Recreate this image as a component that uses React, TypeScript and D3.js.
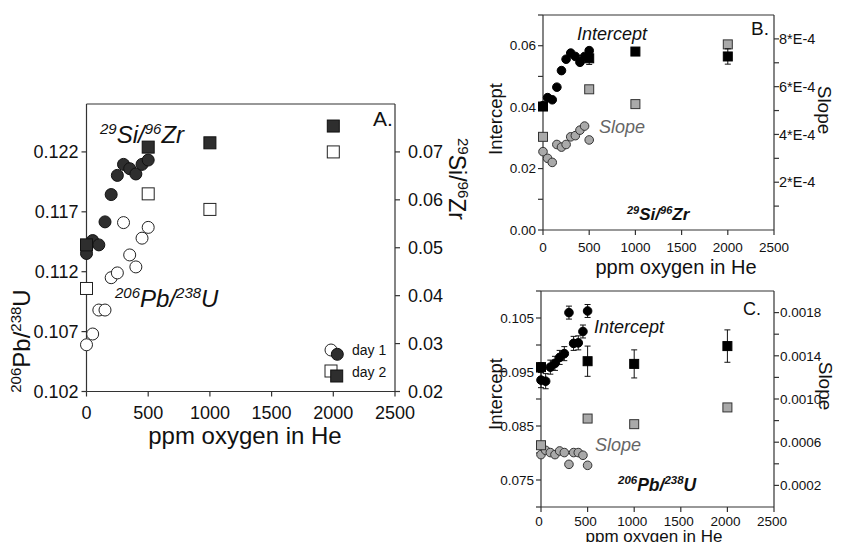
import React from 'react';
import * as d3 from 'd3';

// ---------- data ----------
const ppmDay1 = [0, 50, 100, 150, 200, 250, 300, 350, 400, 450, 500];
const ppmDay2 = [0, 500, 1000, 2000];

// Panel A
const pbUDay1 = [0.1059, 0.1068, 0.1088, 0.1088, 0.1115, 0.1119, 0.1161, 0.1134, 0.1124, 0.1148, 0.1157];
const siZrDay1 = [0.0488, 0.0515, 0.0506, 0.0554, 0.0611, 0.0651, 0.0674, 0.0665, 0.0654, 0.0674, 0.0683];
const pbUDay2 = [0.1106, 0.1185, 0.1172, 0.122];
const siZrDay2 = [0.0506, 0.071, 0.0719, 0.0754];

// Panel B (29Si/96Zr)
const siInterceptDay1 = [0.0405, 0.0431, 0.0424, 0.0465, 0.0519, 0.0556, 0.0576, 0.0565, 0.0546, 0.0565, 0.0584];
const siSlopeDay1 = [3.28e-4, 3.0e-4, 2.83e-4, 3.58e-4, 3.47e-4, 3.58e-4, 3.9e-4, 3.95e-4, 4.18e-4, 4.35e-4, 3.77e-4];
const siInterceptDay2 = [0.0402, 0.0559, 0.0581, 0.0565];
const siInterceptErrDay2 = [0.0004, 0.002, 0.001, 0.0025];
const siSlopeDay2 = [3.9e-4, 5.89e-4, 5.27e-4, 7.77e-4];

// Panel C (206Pb/238U)
const pbInterceptDay1 = [0.0935, 0.0933, 0.0959, 0.0966, 0.0977, 0.0984, 0.106, 0.1003, 0.1004, 0.1025, 0.1063];
const pbInterceptErrDay1 = [0.0014, 0.0014, 0.0013, 0.0013, 0.0013, 0.0013, 0.0012, 0.0013, 0.0013, 0.0012, 0.0012];
const pbSlopeDay1 = [4.85e-4, 5.25e-4, 5.04e-4, 4.85e-4, 5.19e-4, 5.04e-4, 3.95e-4, 5.04e-4, 5.04e-4, 4.79e-4, 3.86e-4];
const pbInterceptDay2 = [0.0959, 0.097, 0.0965, 0.0998];
const pbInterceptErrDay2 = [0.0008, 0.0028, 0.0026, 0.003];
const pbSlopeDay2 = [5.72e-4, 8.19e-4, 7.67e-4, 9.22e-4];

// ticks
const xTicks = [0, 500, 1000, 1500, 2000, 2500];
const aLeftTicks = [0.102, 0.107, 0.112, 0.117, 0.122];
const aRightTicks = [0.02, 0.03, 0.04, 0.05, 0.06, 0.07];
const bLeftTicks = [0, 0.01, 0.02, 0.03, 0.04, 0.05, 0.06, 0.07];
const bLeftLabels = ['0.00', '0.02', '0.04', '0.06'];
const bRightTicks = [1e-4, 2e-4, 3e-4, 4e-4, 5e-4, 6e-4, 7e-4, 8e-4];
const bRightLabels = ['2*E-4', '4*E-4', '6*E-4', '8*E-4'];
const cLeftTicks = [0.07, 0.075, 0.08, 0.085, 0.09, 0.095, 0.1, 0.105, 0.11];
const cLeftLabels = ['0.075', '0.085', '0.095', '0.105'];
const cRightTicks = [0.0002, 0.0004, 0.0006, 0.0008, 0.001, 0.0012, 0.0014, 0.0016, 0.0018];
const cRightLabels = ['0.0002', '0.0006', '0.0010', '0.0014', '0.0018'];

const FONT = 'Liberation Sans, Arial, Helvetica, sans-serif';
const GRAY = '#a9a9a9';

type Scale = d3.ScaleLinear<number, number>;

function Frame({ x, yl }: { x: Scale; yl: Scale }) {
  const [x0, x1] = x.range();
  const [y0, y1] = yl.range();
  return (
    <g stroke="#333" strokeWidth={1.2} fill="none">
      <line x1={x0} x2={x0} y1={y0} y2={y1} />
      <line x1={x1} x2={x1} y1={y0} y2={y1} />
      <line x1={x0} x2={x1} y1={y1} y2={y1} />
      <line x1={x0} x2={x1} y1={y0} y2={y0} />
    </g>
  );
}

function XAxis({ x, y0, fs, base, labelDx = 0 }: { x: Scale; y0: number; fs: number; base: number; labelDx?: number }) {
  return (
    <g>
      {xTicks.map((t) => (
        <g key={t}>
          <line x1={x(t)} x2={x(t)} y1={y0} y2={y0 + 5} stroke="#333" strokeWidth={1.2} />
          <text x={x(t) + labelDx} y={base} fontSize={fs} textAnchor="middle" fontFamily={FONT} fill="#111">
            {t}
          </text>
        </g>
      ))}
    </g>
  );
}

function YTicks({ y, x0, dir, ticks, labels, labelVals, fs, gap }: any) {
  return (
    <g>
      {ticks.map((t: number, i: number) => (
        <line key={'t' + i} x1={x0} x2={x0 + dir * 5} y1={y(t)} y2={y(t)} stroke="#333" strokeWidth={1.2} />
      ))}
      {labelVals.map((t: number, i: number) => (
        <text
          key={'l' + i}
          x={x0 + dir * (5 + gap)}
          y={y(t)}
          dy="0.35em"
          fontSize={fs}
          textAnchor={dir < 0 ? 'end' : 'start'}
          fontFamily={FONT}
          fill="#111"
        >
          {labels[i]}
        </text>
      ))}
    </g>
  );
}

function Circles({ x, y, xs, vs, r, fill, stroke }: any) {
  return (
    <g>
      {xs.map((d: number, i: number) => (
        <circle key={i} cx={x(d)} cy={y(vs[i])} r={r} fill={fill} stroke={stroke} strokeWidth={1} />
      ))}
    </g>
  );
}

function Squares({ x, y, xs, vs, s, fill, stroke }: any) {
  return (
    <g>
      {xs.map((d: number, i: number) => (
        <rect key={i} x={x(d) - s / 2} y={y(vs[i]) - s / 2} width={s} height={s} fill={fill} stroke={stroke} strokeWidth={1} />
      ))}
    </g>
  );
}

function ErrorBars({ x, y, xs, vs, es }: any) {
  return (
    <g stroke="#111" strokeWidth={1}>
      {xs.map((d: number, i: number) => {
        const cx = x(d);
        const a = y(vs[i] - es[i]);
        const b = y(vs[i] + es[i]);
        return (
          <g key={i}>
            <line x1={cx} x2={cx} y1={a} y2={b} />
            <line x1={cx - 3} x2={cx + 3} y1={a} y2={a} />
            <line x1={cx - 3} x2={cx + 3} y1={b} y2={b} />
          </g>
        );
      })}
    </g>
  );
}

function SupLabel({ parts, fs, sfs, bold, italic, ...rest }: any) {
  let prevSup = false;
  return (
    <text fontFamily={FONT} fontWeight={bold ? 'bold' : 'normal'} fontStyle={italic ? 'italic' : 'normal'} fill="#111" {...rest}>
      {parts.map((p: [string, boolean], i: number) => {
        const [txt, sup] = p;
        let dy = 0;
        if (sup && !prevSup) dy = -fs * 0.38;
        if (!sup && prevSup) dy = fs * 0.38;
        prevSup = sup;
        return (
          <tspan key={i} fontSize={sup ? sfs : fs} dy={dy}>
            {txt}
          </tspan>
        );
      })}
    </text>
  );
}

export default function App() {
  // Panel A scales
  const xA = d3.scaleLinear().domain([0, 2500]).range([86.5, 395]);
  const yAL = d3.scaleLinear().domain([0.102, 0.126]).range([391.5, 104]);
  const yAR = d3.scaleLinear().domain([0.02, 0.08]).range([391.5, 104]);
  // Panel B
  const xB = d3.scaleLinear().domain([0, 2500]).range([543, 774]);
  const yBL = d3.scaleLinear().domain([0, 0.07]).range([230, 15]);
  const yBR = d3.scaleLinear().domain([0, 9e-4]).range([230, 15]);
  // Panel C
  const xC = d3.scaleLinear().domain([0, 2500]).range([541, 774]);
  const yCL = d3.scaleLinear().domain([0.07, 0.11]).range([507, 291]);
  const yCR = d3.scaleLinear().domain([0, 0.002]).range([507, 291]);

  return (
    <svg width={843} height={542} style={{ position: 'absolute', left: 0, top: 0, background: '#fff' }}>
      <rect width={843} height={542} fill="#fff" />

      {/* ================= Panel A ================= */}
      <Frame x={xA} yl={yAL} />
      <XAxis x={xA} y0={391.5} fs={18} base={419} />
      <YTicks y={yAL} x0={86.5} dir={-1} ticks={aLeftTicks} labels={aLeftTicks.map((t) => t.toFixed(3))} labelVals={aLeftTicks} fs={18} gap={3} />
      <YTicks y={yAR} x0={395} dir={1} ticks={aRightTicks} labels={aRightTicks.map((t) => t.toFixed(2))} labelVals={aRightTicks} fs={18} gap={8} />

      <Circles x={xA} y={yAL} xs={ppmDay1} vs={pbUDay1} r={6} fill="#fff" stroke="#222" />
      <Squares x={xA} y={yAL} xs={ppmDay2} vs={pbUDay2} s={12} fill="#fff" stroke="#222" />
      <Circles x={xA} y={yAR} xs={ppmDay1} vs={siZrDay1} r={6} fill="#2e2e2e" stroke="#111" />
      <Squares x={xA} y={yAR} xs={ppmDay2} vs={siZrDay2} s={12} fill="#2e2e2e" stroke="#111" />

      <SupLabel x={100} y={143} fs={24} sfs={15} italic parts={[['29', true], ['Si/', false], ['96', true], ['Zr', false]]} />
      <SupLabel x={115} y={307} fs={24} sfs={15} italic parts={[['206', true], ['Pb/', false], ['238', true], ['U', false]]} />
      <text x={373} y={126} fontSize={21} fontFamily={FONT} fill="#111">A.</text>

      {/* legend */}
      <circle cx={331} cy={350} r={6} fill="#fff" stroke="#222" />
      <circle cx={337.3} cy={354.3} r={6} fill="#2e2e2e" stroke="#111" />
      <text x={352} y={355} fontSize={14} fontFamily={FONT} fill="#111">day 1</text>
      <rect x={325} y={365} width={12} height={12} fill="#fff" stroke="#222" />
      <rect x={330.7} y={370} width={12} height={12} fill="#2e2e2e" stroke="#111" />
      <text x={352} y={377} fontSize={14} fontFamily={FONT} fill="#111">day 2</text>

      <text x={245} y={444} fontSize={24} textAnchor="middle" fontFamily={FONT} fill="#111">ppm oxygen in He</text>
      <SupLabel transform="translate(30,341) rotate(-90)" x={0} y={0} textAnchor="middle" fs={24} sfs={15} parts={[['206', true], ['Pb/', false], ['238', true], ['U', false]]} />
      <SupLabel transform="translate(449,179) rotate(90)" x={0} y={0} textAnchor="middle" fs={23} sfs={15} parts={[['29', true], ['Si/', false], ['96', true], ['Zr', false]]} />

      {/* ================= Panel B ================= */}
      <Frame x={xB} yl={yBL} />
      <XAxis x={xB} y0={230} fs={13.5} base={251.5} />
      <YTicks y={yBL} x0={543} dir={-1} ticks={bLeftTicks} labels={bLeftLabels} labelVals={[0, 0.02, 0.04, 0.06]} fs={13.5} gap={2} />
      <YTicks y={yBR} x0={774} dir={1} ticks={bRightTicks} labels={bRightLabels} labelVals={[2e-4, 4e-4, 6e-4, 8e-4]} fs={14.5} gap={0} />

      <Circles x={xB} y={yBR} xs={ppmDay1} vs={siSlopeDay1} r={4.3} fill={GRAY} stroke="#333" />
      <Squares x={xB} y={yBR} xs={ppmDay2} vs={siSlopeDay2} s={9} fill={GRAY} stroke="#333" />
      <ErrorBars x={xB} y={yBL} xs={ppmDay2} vs={siInterceptDay2} es={siInterceptErrDay2} />
      <Circles x={xB} y={yBL} xs={ppmDay1} vs={siInterceptDay1} r={4.3} fill="#000" stroke="#000" />
      <Squares x={xB} y={yBL} xs={ppmDay2} vs={siInterceptDay2} s={9} fill="#000" stroke="#000" />

      <text x={577} y={40} fontSize={18} fontStyle="italic" fontFamily={FONT} fill="#111">Intercept</text>
      <text x={599} y={133} fontSize={18} fontStyle="italic" fontFamily={FONT} fill="#666">Slope</text>
      <text x={751} y={35} fontSize={19} fontFamily={FONT} fill="#111">B.</text>
      <SupLabel x={627} y={220} fs={17} sfs={11} bold italic parts={[['29', true], ['Si/', false], ['96', true], ['Zr', false]]} />

      <text x={676} y={274} fontSize={20} textAnchor="middle" fontFamily={FONT} fill="#111">ppm oxygen in He</text>
      <text transform="translate(502,119) rotate(-90)" textAnchor="middle" fontSize={18.5} fontFamily={FONT} fill="#111">Intercept</text>
      <text transform="translate(818,110) rotate(90)" textAnchor="middle" fontSize={19} fontFamily={FONT} fill="#111">Slope</text>

      {/* ================= Panel C ================= */}
      <Frame x={xC} yl={yCL} />
      <XAxis x={xC} y0={507} fs={13.5} base={525.5} labelDx={-2} />
      <YTicks y={yCL} x0={541} dir={-1} ticks={cLeftTicks} labels={cLeftLabels} labelVals={[0.075, 0.085, 0.095, 0.105]} fs={13.5} gap={2} />
      <YTicks y={yCR} x0={774} dir={1} ticks={cRightTicks} labels={cRightLabels} labelVals={[0.0002, 0.0006, 0.001, 0.0014, 0.0018]} fs={13.5} gap={1} />

      <Circles x={xC} y={yCR} xs={ppmDay1} vs={pbSlopeDay1} r={4.3} fill={GRAY} stroke="#333" />
      <Squares x={xC} y={yCR} xs={ppmDay2} vs={pbSlopeDay2} s={9} fill={GRAY} stroke="#333" />
      <ErrorBars x={xC} y={yCL} xs={ppmDay1} vs={pbInterceptDay1} es={pbInterceptErrDay1} />
      <ErrorBars x={xC} y={yCL} xs={ppmDay2} vs={pbInterceptDay2} es={pbInterceptErrDay2} />
      <Circles x={xC} y={yCL} xs={ppmDay1} vs={pbInterceptDay1} r={4.3} fill="#000" stroke="#000" />
      <Squares x={xC} y={yCL} xs={ppmDay2} vs={pbInterceptDay2} s={9} fill="#000" stroke="#000" />

      <text x={594} y={333} fontSize={18} fontStyle="italic" fontFamily={FONT} fill="#111">Intercept</text>
      <text x={595} y={451} fontSize={18} fontStyle="italic" fontFamily={FONT} fill="#666">Slope</text>
      <text x={743} y={315} fontSize={18} fontFamily={FONT} fill="#111">C.</text>
      <SupLabel x={618} y={491} fs={17.5} sfs={11.5} bold italic parts={[['206', true], ['Pb/', false], ['238', true], ['U', false]]} />

      <text x={654} y={541.5} fontSize={17} textAnchor="middle" fontFamily={FONT} fill="#111">ppm oxygen in He</text>
      <text transform="translate(502,394) rotate(-90)" textAnchor="middle" fontSize={18.5} fontFamily={FONT} fill="#111">Intercept</text>
      <text transform="translate(819,386) rotate(90)" textAnchor="middle" fontSize={19} fontFamily={FONT} fill="#111">Slope</text>
    </svg>
  );
}
